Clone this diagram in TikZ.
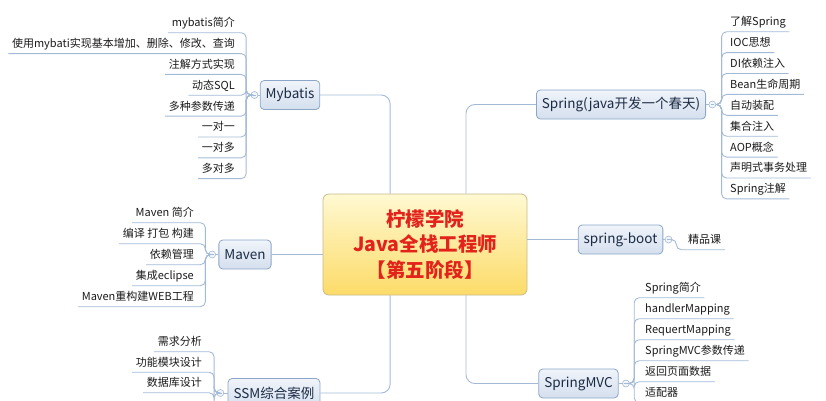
\documentclass[tikz,border=0pt]{standalone}
\usepackage{fontspec}
\setmainfont{Noto Sans CJK SC}
\usetikzlibrary{positioning,calc}
\definecolor{vinecol}{HTML}{A3BAD6}
\definecolor{topicdraw}{HTML}{8CA6C8}
\definecolor{topictop}{HTML}{F0F4FA}
\definecolor{topicbot}{HTML}{D4DFEE}
\definecolor{topictext}{HTML}{1B2B44}
\definecolor{coredraw}{HTML}{C9B98A}
\definecolor{coretop}{HTML}{FFF9D2}
\definecolor{corebot}{HTML}{FCDB68}
\definecolor{corered}{HTML}{E3231B}
\definecolor{knobfill}{HTML}{F2F6FB}
\definecolor{leaftext}{HTML}{1A1A1A}
\tikzset{
    core/.style = {draw=coredraw, rounded corners=6pt, line width=0.8pt,
        top color=coretop, bottom color=corebot, text=corered,
        font=\bfseries\fontsize{19.5}{25.5}\selectfont, align=center,
        minimum width=204pt, minimum height=101pt},
    topic/.style = {draw=topicdraw, rounded corners=4pt, line width=0.8pt,
        top color=topictop, bottom color=topicbot, text=topictext,
        font=\fontsize{13.5}{16}\selectfont, minimum height=29pt, inner xsep=5.5pt},
    leaf/.style = {font=\fontsize{11}{12}\selectfont, text=leaftext,
        text height=8.8pt, text depth=1.6pt, inner xsep=3.5pt, inner ysep=4.3pt},
    link/.style = {draw=vinecol, line width=0.9pt, rounded corners=9pt},
    vine/.style = {draw=vinecol, line width=0.9pt, rounded corners=5pt},
    knob/.style = {circle, draw=vinecol, fill=knobfill, line width=0.6pt,
        inner sep=0pt, minimum size=7pt,
        path picture={\draw[vinecol, line width=0.6pt] ([xshift=1.8pt]path picture bounding box.west) -- ([xshift=-1.8pt]path picture bounding box.east);}}
}

\begin{document}
\begin{tikzpicture}[x=1pt, y=-1pt]
    \useasboundingbox (0,0) rectangle (826,400);
    \clip (0,0) rectangle (826,400);
    \node[core] (core) at (425,244.5) {柠檬学院\\Java全栈工程师\\【第五阶段】};
    \node[topic] (mybatis) at (290,95) {Mybatis};
    \node[topic] (maven) at (245,254.5) {Maven};
    \node[topic] (ssm) at (274,393) {SSM综合案例};
    \node[topic] (spring) at (621,104.5) {Spring(java开发一个春天)};
    \node[topic] (boot) at (620.5,239.5) {spring-boot};
    \node[topic] (mvc) at (578.5,383.5) {SpringMVC};
    \draw[link] ($(core.north west)!.33!(core.north east)$) |- (mybatis);
    \draw[link] ($(core.north west)!.70!(core.north east)$) |- (spring);
    \draw[link] ($(core.south west)!.33!(core.south east)$) |- (ssm);
    \draw[link] ($(core.south west)!.70!(core.south east)$) |- (mvc);
    \draw[link] (maven) -- (maven -| core.west);
    \draw[link] (boot) -- (boot -| core.east);
    % Mybatis
    \node[knob, left=1.5pt of mybatis] (mbknob) {};
    \coordinate[left=4.5pt of mbknob.west] (mbvine);
    \draw[link] (mybatis) -- (mbknob);
    \foreach \t [count=\i] in {mybatis简介, 使用mybati实现基本增加、删除、修改、查询, 注解方式实现, 动态SQL, 多种参数传递, 一对一, 一对多, 多对多}{
        \node[leaf, anchor=east] (mb\i) at (238.5,{23+20.85*(\i-1)}) {\t};
        \draw[vine] (mb\i.south west) -| (mbvine) -- (mbknob);
    }
    % Maven
    \node[knob, left=2.5pt of maven] (mvnknob) {};
    \coordinate[left=3pt of mvnknob.west] (mvnvine);
    \draw[link] (maven) -- (mvnknob);
    \foreach \t [count=\i] in {Maven 简介, 编译 打包 构建, 依赖管理, 集成eclipse, Maven重构建WEB工程}{
        \node[leaf, anchor=east] (mv\i) at (197.5,{213+21*(\i-1)}) {\t};
        \draw[vine] (mv\i.south west) -| (mvnvine) -- (mvnknob);
    }
    % SSM
    \node[knob, left=3.5pt of ssm] (ssmknob) {};
    \coordinate[left=2.5pt of ssmknob.west] (ssmvine);
    \draw[link] (ssm) -- (ssmknob);
    \foreach \t [count=\i] in {需求分析, 功能模块设计, 数据库设计}{
        \node[leaf, anchor=east] (ss\i) at (205.5,{342+20.5*(\i-1)}) {\t};
        \draw[vine] (ss\i.south west) -| (ssmvine) -- (ssmknob);
    }
    \draw[vine] (ssmknob) -- (ssmvine) -- ++(0,20);
    % Spring
    \node[knob, right=2.5pt of spring] (spknob) {};
    \coordinate[right=5.5pt of spknob.east] (spvine);
    \draw[link] (spring) -- (spknob);
    \foreach \t [count=\i] in {了解Spring, IOC思想, DI依赖注入, Bean生命周期, 自动装配, 集合注入, AOP概念, 声明式事务处理, Spring注解}{
        \node[leaf, anchor=west] (sp\i) at (726.5,{22+20.9*(\i-1)}) {\t};
        \draw[vine] (sp\i.south east) -| (spvine) -- (spknob);
    }
    % spring-boot
    \node[knob, right=1.5pt of boot] (bootknob) {};
    \coordinate[right=4pt of bootknob.east] (bootvine);
    \draw[link] (boot) -- (bootknob);
    \node[leaf, anchor=west] (bk1) at (684.5,240) {精品课};
    \draw[vine] (bk1.south east) -| (bootvine) -- (bootknob);
    % SpringMVC
    \node[knob, right=3.5pt of mvc] (mvcknob) {};
    \coordinate[right=4.5pt of mvcknob.east] (mvcvine);
    \draw[link] (mvc) -- (mvcknob);
    \foreach \t [count=\i] in {Spring简介, handlerMapping, RequertMapping, SpringMVC参数传递, 返回页面数据, 适配器}{
        \node[leaf, anchor=west] (mc\i) at (641.5,{288+21*(\i-1)}) {\t};
        \draw[vine] (mc\i.south east) -| (mvcvine) -- (mvcknob);
    }
\end{tikzpicture}
\end{document}
